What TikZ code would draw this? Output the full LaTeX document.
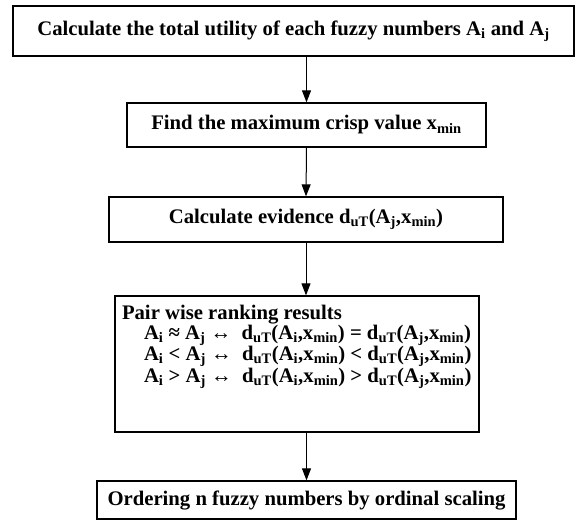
\documentclass[tikz,border=0pt]{standalone}
\usepackage{fontspec}
\setmainfont{Liberation Serif}
\usetikzlibrary{arrows.meta}
\newcommand{\lo}[1]{\textsubscript{#1}}

\begin{document}
\begin{tikzpicture}[x=1pt,y=-1pt,
        box/.style={draw, line width=1.3pt, inner sep=0pt,
          font=\bfseries\fontsize{20.7}{18.5}\selectfont},
        flow/.style={-{Triangle[length=12pt,width=9pt]}, line width=1pt}]
        \useasboundingbox (0,0) rectangle (575,520);

        \node[box, minimum width=561pt, minimum height=50pt] (util)  at (293.5,31)
          {Calculate the total utility of each fuzzy numbers A\lo{i} and A\lo{j}};
        \node[box, minimum width=359pt, minimum height=44pt] (find)  at (306.5,125)
          {Find the maximum crisp value x\lo{min}};
        \node[box, minimum width=394pt, minimum height=45pt] (evid)  at (306,219.5)
          {Calculate evidence d\lo{uT}(A\lo{j},x\lo{min})};
        \node[box, minimum width=364pt, minimum height=136pt] (rank) at (297,364) {};
        \node[box, draw=none, anchor=north west, align=left] (ranktext)
          at ([shift={(7,9)}]rank.north west)
          {Pair wise ranking results\\
           \hspace*{22pt}A\lo{i} ≈ A\lo{j} ↔\ \ d\lo{uT}(A\lo{i},x\lo{min}) = d\lo{uT}(A\lo{j},x\lo{min})\\
           \hspace*{22pt}A\lo{i} < A\lo{j} ↔\ \ d\lo{uT}(A\lo{i},x\lo{min}) < d\lo{uT}(A\lo{j},x\lo{min})\\
           \hspace*{22pt}A\lo{i} > A\lo{j} ↔\ \ d\lo{uT}(A\lo{i},x\lo{min}) > d\lo{uT}(A\lo{j},x\lo{min})};
        \node[box, minimum width=419pt, minimum height=38pt] (order) at (306.5,500)
          {Ordering n fuzzy numbers by ordinal scaling};

        % connectors
        \draw[flow] (find.north |- util.south) -- (find.north);
        \draw[flow] (find.south) -- (evid.north);
        \draw[flow] (evid.south) -- (evid.south |- rank.north);
        \draw[flow] (rank.south -| order.north) -- (order.north);
      \end{tikzpicture}
\end{document}
